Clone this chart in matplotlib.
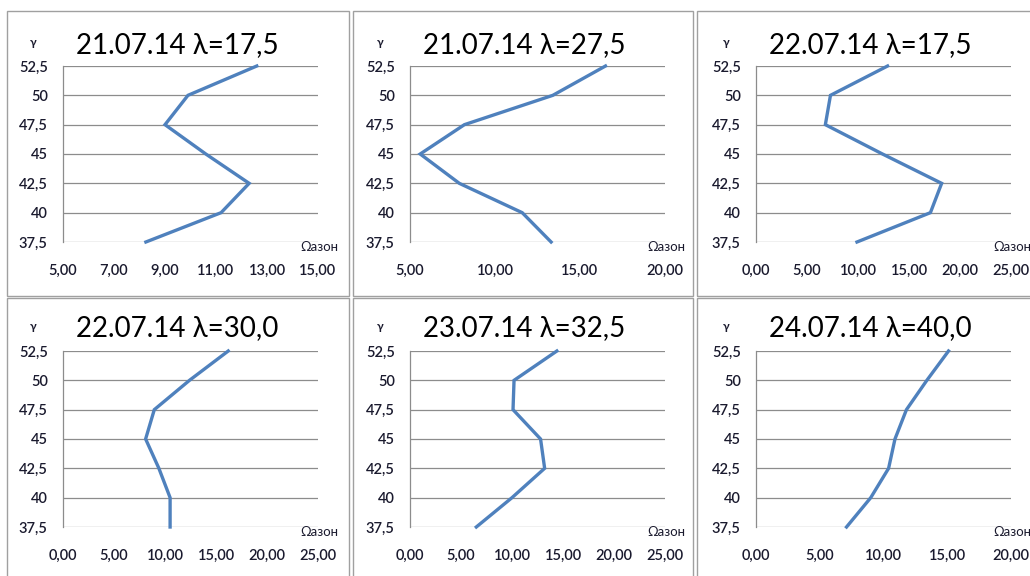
import numpy as np
import matplotlib.pyplot as plt
from matplotlib.patches import Rectangle

plt.rcParams['font.family'] = ['Lato', 'Open Sans', 'DejaVu Sans']

# heights (y axis) shared by all panels
levels = [52.5, 50, 47.5, 45, 42.5, 40, 37.5]
level_labels = ["52,5", "50", "47,5", "45", "42,5", "40", "37,5"]

titles = ["21.07.14 λ=17,5", "21.07.14 λ=27,5", "22.07.14 λ=17,5",
          "22.07.14 λ=30,0", "23.07.14 λ=32,5", "24.07.14 λ=40,0"]

# ozone values, top to bottom
ozone_1 = [12.6, 9.9, 9.0, 10.6, 12.3, 11.2, 8.25]
ozone_2 = [16.5, 13.4, 8.2, 5.6, 7.9, 11.6, 13.3]
ozone_3 = [12.9, 7.3, 6.8, 12.4, 18.2, 17.1, 9.9]
ozone_4 = [16.2, 12.4, 8.95, 8.1, 9.4, 10.5, 10.5]
ozone_5 = [14.4, 10.2, 10.1, 12.8, 13.2, 10.0, 6.5]
ozone_6 = [15.1, 13.4, 11.8, 10.9, 10.4, 9.0, 7.1]
series = [ozone_1, ozone_2, ozone_3, ozone_4, ozone_5, ozone_6]

x_ranges = [(5, 15, 2), (5, 20, 5), (0, 25, 5), (0, 25, 5), (0, 25, 5), (0, 20, 5)]

W, H = 1030, 576
fig = plt.figure(figsize=(W / 100, H / 100), dpi=100)


def px_box(x0, y0, x1, y1):
    # pixel box (top-left origin) -> figure fraction [l, b, w, h]
    return [x0 / W, 1 - y1 / H, (x1 - x0) / W, (y1 - y0) / H]


def fx(x):
    return x / W


def fy(y):
    return 1 - y / H


# panel frames
frames = [(7, 11, 349, 295.5), (353, 11, 693, 295.5), (697, 11, 1040, 295.5),
          (7, 297.5, 349, 590), (353, 297.5, 693, 590), (697, 297.5, 1040, 590)]
for x0, y0, x1, y1 in frames:
    l, b, w, h = px_box(x0, y0, x1, y1)
    fig.patches.append(Rectangle((l, b), w, h, transform=fig.transFigure,
                                 fill=False, edgecolor='#a0a0a0', linewidth=1.0))

ax_left = [63, 410, 756]
ax_rows = [(66, 242), (351, 527)]
txt_color = '#1a1a2e'

for i, (vals, title, xr) in enumerate(zip(series, titles, x_ranges)):
    r, c = divmod(i, 3)
    x0 = ax_left[c]
    x1 = x0 + 255
    top, bot = ax_rows[r]
    ax = fig.add_axes(px_box(x0, top, x1, bot))

    ax.plot(vals, levels, color='#4F81BD', linewidth=2.4, clip_on=False,
            solid_joinstyle='miter')

    lo, hi, step = xr
    xt = np.arange(lo, hi + 0.01, step)
    ax.set_xlim(lo, hi)
    ax.set_xticks(xt)
    ax.set_xticklabels([f"{v:.2f}".replace('.', ',') for v in xt])
    ax.set_ylim(37.5, 52.5)
    ax.set_yticks(levels)
    ax.set_yticklabels(level_labels)

    ax.grid(axis='y', color='#8c8c8c', linewidth=0.9)
    ax.set_axisbelow(True)
    for s in ['top', 'right', 'bottom']:
        ax.spines[s].set_visible(False)
    ax.spines['left'].set_color('#8c8c8c')
    ax.spines['left'].set_linewidth(0.9)
    ax.tick_params(axis='both', length=0, labelsize=10.5, colors=txt_color)
    ax.tick_params(axis='x', pad=16)
    ax.tick_params(axis='y', pad=11)
    for lab in ax.get_xticklabels() + ax.get_yticklabels():
        lab.set_fontweight('semibold')

    ty = 45 if r == 0 else 328
    fig.text(fx(x0 + 114), fy(ty), title, fontsize=20, ha='center', va='center',
             color='black')
    fig.text(fx(x0 - 30), fy(ty - 2), "γ", fontsize=8.5, ha='center', va='center',
             color=txt_color, fontweight='bold')
    fig.text(fx(x1 + 1), fy(bot + 5), "Ωазон", fontsize=9.5, ha='center', va='center',
             color=txt_color)

plt.savefig("out.png", dpi=100)
